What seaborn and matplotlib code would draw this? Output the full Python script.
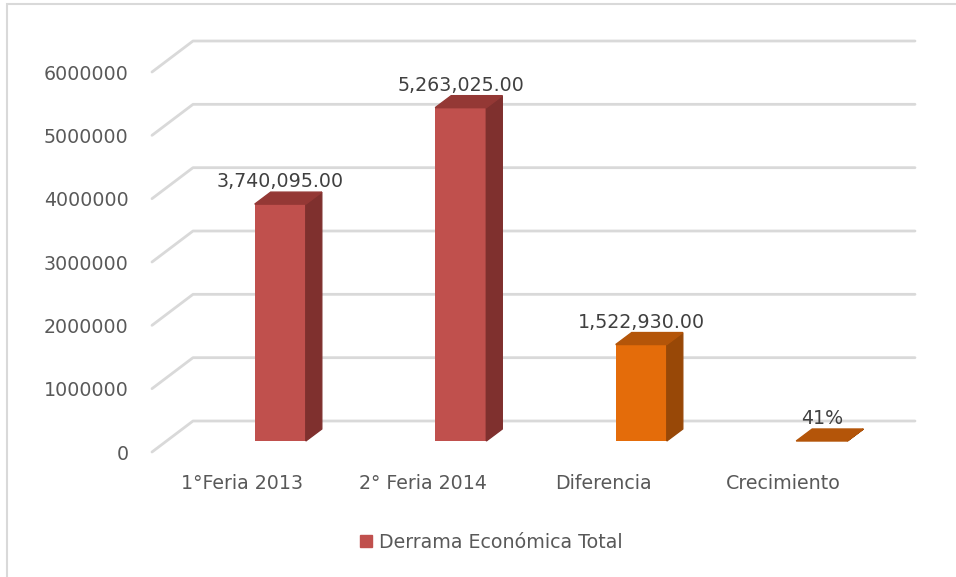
import pandas as pd
import seaborn as sns
import matplotlib.pyplot as plt
from matplotlib.patches import Polygon, Patch, Rectangle

categorias = ["1°Feria 2013", "2° Feria 2014", "Diferencia", "Crecimiento"]
valores = [3740095.00, 5263025.00, 1522930.00, 0.41]
etiquetas = ["3,740,095.00", "5,263,025.00", "1,522,930.00", "41%"]
serie = "Derrama Económica Total"
y_ticks = [0, 1000000, 2000000, 3000000, 4000000, 5000000, 6000000]

# colores de cara frontal, lateral y superior
frente = ["#C0504D", "#C0504D", "#E46C0A", "#E46C0A"]
lado = ["#7F302E", "#7F302E", "#984807", "#984807"]
tapa = ["#943835", "#943835", "#B45509", "#B45509"]

sns.set_style("white")
plt.rcParams['font.family'] = ['DejaVu Sans']

W, H = 956, 577
fig = plt.figure(figsize=(W / 100, H / 100), dpi=100)
ax = fig.add_axes([152 / W, 125 / H, 722 / W, 380 / H])

df = pd.DataFrame({"cat": categorias, "valor": valores})
sns.barplot(data=df, x="cat", y="valor", hue="cat", palette=frente,
            width=0.283, saturation=1, legend=False, ax=ax, zorder=2)
ax.set_xlim(-0.5, 3.5)
ax.set_ylim(0, 6000000)

# pixeles -> unidades de datos
ux = 4 / 722
uy = 6000000 / 380
shift = (38 * ux, 11 * uy)
prof = (16 * ux, 12 * uy)
fondo = (41 * ux, 31 * uy)

# rejilla en perspectiva
for v in y_ticks:
    ax.plot([-0.5, -0.5 + fondo[0], 3.5 + fondo[0]],
            [v, v + fondo[1], v + fondo[1]],
            color="#D9D9D9", lw=2, clip_on=False, zorder=0.5)

bars = sorted(ax.patches, key=lambda p: p.get_x())
for p, cl, ct, txt in zip(bars, lado, tapa, etiquetas):
    p.set_x(p.get_x() + shift[0])
    p.set_y(p.get_y() + shift[1])
    p.set_edgecolor("none")
    x0, y0 = p.get_x(), p.get_y()
    x1, y1 = x0 + p.get_width(), y0 + p.get_height()
    ax.add_patch(Polygon([(x1, y0), (x1 + prof[0], y0 + prof[1]),
                          (x1 + prof[0], y1 + prof[1]), (x1, y1)],
                         closed=True, color=cl, zorder=2, clip_on=False))
    ax.add_patch(Polygon([(x0, y1), (x1, y1), (x1 + prof[0], y1 + prof[1]),
                          (x0 + prof[0], y1 + prof[1])],
                         closed=True, color=ct, zorder=2, clip_on=False))
    ax.annotate(txt, ((x0 + x1) / 2, y1), xytext=(0, 17),
                textcoords="offset pixels", ha="center", va="baseline",
                color="#404040", fontsize=13.7)

ax.set_yticks(y_ticks)
ax.set_yticklabels([str(v) for v in y_ticks])
ax.set_xlabel("")
ax.set_ylabel("")
ax.tick_params(length=0, labelsize=13.7, labelcolor="#595959")
ax.tick_params(axis="y", pad=17)
ax.tick_params(axis="x", pad=16)
for s in ax.spines.values():
    s.set_visible(False)
ax.grid(False)

fig.legend(handles=[Patch(color="#C0504D", label=serie)], loc="center",
           bbox_to_anchor=(491 / W, 1 - 542 / H), frameon=False,
           fontsize=13.7, labelcolor="#595959", handlelength=0.63,
           handleheight=0.63, handletextpad=0.37)

# marco del grafico
fig.add_artist(Rectangle((7 / W, -0.05), 1.2, 1.05 - 4 / H, fill=False,
                         ec="#D9D9D9", lw=1.5, transform=fig.transFigure))

fig.savefig("out.png", dpi=100)
